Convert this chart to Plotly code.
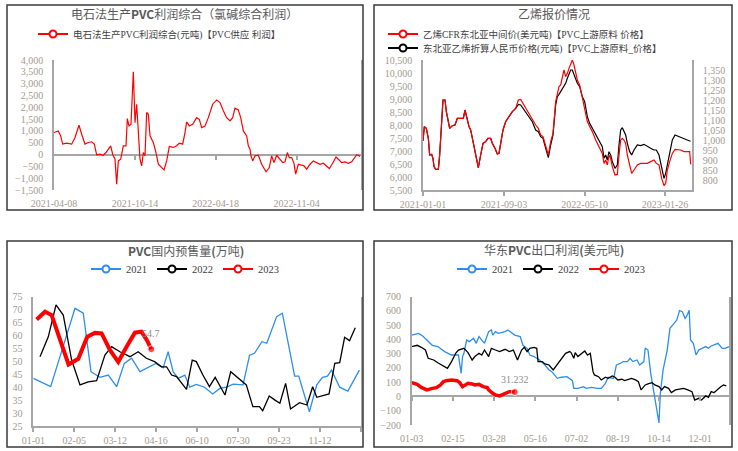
import plotly.graph_objects as go

W, H = 738, 451

# ---------------- Panel 1: 电石法生产PVC利润综合 ----------------
p1_idx = [0, 6.5, 10, 13, 19, 26.5, 31.5, 37.5, 41.5, 46.5,
          51.5, 56.5, 60.5, 64, 69, 74, 78, 81.5, 85, 88,
          91.5, 94, 96.5, 100, 104, 108, 110, 112.5, 115.5, 119,
          121.5, 124, 126.5, 129, 131.5, 134, 136.5, 139, 141.5, 144,
          149, 153, 156.5, 161.5, 165, 169, 173, 179, 184, 188,
          193, 196.5, 199, 203, 208, 214, 218, 221.5, 226.5, 231.5,
          238, 244, 249, 254, 259, 264, 268, 271.5, 276.5, 280,
          284, 289, 291.5, 294, 295.5, 298, 301.5, 306.5, 311.5, 318,
          323, 326.5, 330, 334, 339, 343, 346.5, 350, 353, 356.5,
          360, 362.5, 366.5, 370, 375, 379, 384, 389, 394, 399,
          404, 408, 413, 418, 423, 426.5, 431.5, 436.5, 441.5, 446.5,
          450.5, 454, 456.5, 459]
p1_val = [930, 1000, 790, 440, 480, 440, 720, 1240, 860, 440,
          510, 540, 440, -15, 15, -30, 85, 225, 370, 15,
          -200, -1250, -270, -200, 370, 370, 1520, 1210, 1280, 3500,
          1350, 2130, 1070, -200, -480, 85, -55, 1780, 1700, 790,
          510, 85, -410, -550, -650, -270, 340, 300, 370, 480,
          440, 930, 1380, 1210, 1280, 1560, 1490, 1140, 1210, 1560,
          2130, 2310, 2200, 1850, 1560, 1420, 1560, 1960, 1890, 1560,
          1000, 790, 370, 225, -55, -270, -55, -30, -410, -730,
          -550, -55, -340, -30, -200, -340, -310, 85, -130, -130,
          -370, -830, -410, -450, -480, -620, -410, -270, -340, -410,
          -370, -480, -590, -370, -100, -200, -340, -310, -370, -310,
          -130, -15, -30, -85]
p1_tick_idx = [0, 121.5, 242.5, 364]
p1_tick_lbl = ["2021-04-08", "2021-10-14", "2022-04-18", "2022-11-04"]
p1_name = "电石法生产PVC利润综合(元吨)【PVC供应 利润】"

# ---------------- Panel 2: 乙烯报价情况 ----------------
p2_idx = [0, 2, 5, 8, 10, 13, 15, 16.5, 19, 23,
          25, 28, 30, 33, 35, 38, 40, 44, 48, 51.5,
          56.5, 60.5, 63, 65.5, 69, 71.5, 74, 76.5, 80, 83,
          86.5, 90, 94, 97.5, 101.5, 104, 108, 111.5, 114, 116.5,
          120, 124, 129, 134, 139, 143, 146.5, 150, 154, 159,
          164, 169, 173, 176.5, 180, 184, 188, 191.5, 195, 199,
          201.5, 204, 206.5, 209, 211.5, 214, 216.5, 219, 221.5, 224,
          226.5, 229, 231.5, 235, 239, 242.5, 246.5, 250, 254, 259,
          264, 269, 271.5, 274, 276.5, 279, 281.5, 284, 288, 291.5,
          294, 296.5, 299, 301.5, 304, 306.5, 310, 313, 316.5, 321.5,
          326.5, 331.5, 336.5, 341.5, 346.5, 350, 354, 358, 361.5, 364,
          366.5, 370, 374, 378, 381.5, 386.5, 391.5, 396.5, 400, 401.5]
p2_cny = [7385, 7936, 7872, 7487, 6846, 6872, 6718, 6398, 6295, 6295,
          6846, 8128, 8962, 8962, 8513, 8128, 7872, 7974, 8000, 8257,
          8257, 8257, 8577, 8257, 7936, 7808, 7487, 7167, 6718, 6359,
          6846, 7295, 7359, 7487, 7487, 7295, 7103, 6885, 6910, 7359,
          7808, 8128, 8321, 8513, 8641, 8795, 8769, 8641, 8513, 8321,
          8128, 7808, 7744, 7551, 7487, 7103, 6744, 7231, 7616, 8769,
          9090, 9180, 9282, 9410, 9474, 9603, 9795, 9923, 10115, 10115,
          9923, 9795, 9603, 9474, 9090, 8898, 8321, 8064, 7872, 7680,
          7423, 7167, 6718, 6846, 6654, 6975, 6846, 6590, 6334, 6462,
          7231, 7808, 7898, 7744, 7616, 7295, 6975, 6846, 7039, 7231,
          7205, 7257, 7167, 7103, 7039, 7039, 6846, 6334, 5949, 6141,
          6462, 6910, 7423, 7616, 7577, 7513, 7462, 7423, 7385, 7385]
p2_usd = [995, 1067, 1058, 1008, 925, 928, 908, 867, 853, 853,
          925, 1092, 1200, 1200, 1142, 1092, 1058, 1072, 1075, 1108,
          1108, 1108, 1150, 1108, 1067, 1050, 1008, 967, 908, 862,
          925, 983, 992, 1008, 1008, 983, 958, 930, 933, 992,
          1050, 1092, 1117, 1142, 1158, 1200, 1203, 1183, 1158, 1133,
          1108, 1075, 1058, 1025, 1017, 967, 925, 992, 1033, 1192,
          1225, 1267, 1275, 1308, 1350, 1317, 1333, 1358, 1383, 1400,
          1375, 1333, 1300, 1275, 1208, 1167, 1092, 1067, 1042, 1000,
          967, 933, 883, 900, 875, 925, 908, 867, 825, 828,
          925, 1000, 1008, 1000, 983, 925, 875, 833, 850, 875,
          883, 883, 883, 892, 900, 883, 875, 808, 772, 783,
          850, 892, 933, 953, 953, 950, 942, 942, 942, 878]
p2_tick_idx = [0, 121.5, 242.5, 363]
p2_tick_lbl = ["2021-01-01", "2021-09-03", "2022-05-10", "2023-01-26"]
p2_right_ticks = [800, 850, 900, 950, 1000, 1050, 1100, 1150, 1200, 1250, 1300, 1350]
p2_name_usd = "乙烯CFR东北亚中间价(美元吨)【PVC上游原料 价格】"
p2_name_cny = "东北亚乙烯折算人民币价格(元吨)【PVC上游原料_价格】"

# ---------------- Panel 3: PVC国内预售量(万吨) ----------------
p3_x21 = [0, 2.12, 5.09, 6.1, 7.04, 8.13, 9.15, 10.17, 11.1, 12.0,
          13.01, 14.02, 14.96, 15.85, 16.46, 17.07, 17.68, 18.5, 19.1, 19.9,
          20.9, 21.9, 22.8, 23.6, 24.4, 25.6, 26.4, 27.0, 27.9, 28.5,
          29.7, 30.4, 31.9, 32.4, 33.7, 34.6, 35.3, 35.9, 36.4, 37.4,
          38.4, 39.8]
p3_y21 = [43.4, 40.2, 70.5, 68.6, 46.0, 43.8, 44.7, 40.2, 49.2, 51.2,
          46.0, 47.6, 49.2, 47.5, 53.7, 46.0, 43.4, 44.7, 40.0, 41.1,
          40.0, 37.4, 39.6, 40.0, 41.2, 40.9, 52.4, 53.1, 57.6, 57.0,
          67.3, 68.6, 44.3, 44.3, 30.5, 40.9, 43.8, 44.3, 46.6, 40.0,
          38.5, 46.6]
p3_x22 = [0.82, 1.83, 2.77, 3.66, 4.68, 5.7, 6.7, 7.73, 8.74, 9.56,
          10.57, 11.8, 12.8, 13.8, 14.8, 15.66, 16.27, 16.88, 17.49, 18.7,
          19.4, 19.9, 20.7, 21.5, 22.2, 23.4, 24.1, 24.8, 26.0, 26.8,
          27.6, 28.0, 28.8, 29.5, 30.1, 30.8, 31.4, 32.5, 33.4, 34.1,
          34.6, 36.1, 36.8, 37.4, 38.0, 38.6, 39.3]
p3_y22 = [51.8, 59.5, 71.8, 67.9, 50.5, 40.9, 42.1, 42.5, 52.4, 55.7,
          53.7, 51.8, 53.7, 51.2, 49.9, 47.9, 47.9, 44.7, 44.1, 39.2,
          50.5, 49.9, 44.7, 40.2, 43.8, 37.0, 46.0, 44.1, 40.9, 32.5,
          32.5, 30.9, 36.6, 35.0, 33.8, 41.5, 31.6, 34.0, 33.1, 40.2,
          36.1, 37.4, 49.2, 49.5, 59.3, 58.0, 63.0]
p3_x23 = [0.41, 1.43, 2.24, 4.3, 5.49, 6.59, 7.52, 8.34, 9.35, 10.37,
          11.4, 12.4, 13.2, 13.9, 14.4]
p3_y23 = [66.2, 69.2, 67.9, 48.8, 51.0, 59.5, 61.0, 60.8, 54.4, 49.8,
          55.7, 61.1, 61.5, 58.0, 54.7]
p3_tick_idx = [0, 5, 10, 15, 20, 25, 30, 35, 40]
p3_tick_lbl = ["01-01", "02-05", "03-12", "04-16", "06-10", "07-30", "09-23", "11-12", ""]

# ---------------- Panel 4: 华东PVC出口利润(美元吨) ----------------
p4_x21 = [0, 5, 8, 15, 19, 24, 29, 34, 36, 37,
          38, 40, 42, 45, 47, 49, 51, 53, 56, 58,
          59, 61, 63, 68, 70, 73, 75, 79, 81, 84,
          86, 89, 93, 97, 100, 102, 106, 109, 113, 117,
          118, 121, 125, 127, 131, 135, 138, 141, 143, 147,
          149, 152, 154, 157, 159, 161, 164, 166, 169, 170,
          172, 174, 176, 178, 180, 181, 183, 186, 188, 191,
          193, 195, 197, 199, 200, 202, 203, 205, 207, 209,
          214, 216, 218, 223, 226, 228, 231]
p4_y21 = [431, 443, 424, 359, 350, 315, 291, 291, 162, 280,
          303, 396, 385, 408, 373, 420, 396, 373, 455, 467,
          431, 455, 443, 455, 467, 443, 431, 420, 359, 338,
          291, 280, 256, 221, 186, 174, 127, 135, 139, 111,
          57, 57, 69, 57, 64, 57, 57, 92, 135, 127,
          221, 233, 245, 245, 268, 245, 256, 221, 245, 340,
          326, 162, 46, -71, -185, 22, 186, 326, 478, 513,
          537, 602, 595, 548, 560, 605, 396, 373, 291, 326,
          350, 338, 354, 373, 338, 338, 350]
p4_x22 = [0, 4, 7, 10, 12, 16, 19, 23, 26, 29,
          32, 34, 38, 41, 44, 46, 49, 51, 53, 56,
          58, 61, 64, 68, 71, 74, 77, 80, 82, 84,
          86, 89, 91, 92, 95, 97, 100, 103, 106, 109,
          112, 115, 116, 118, 119, 121, 124, 126, 128, 130,
          132, 133, 136, 138, 141, 143, 146, 148, 150, 153,
          155, 158, 160, 163, 165, 167, 170, 172, 175, 177,
          180, 182, 184, 187, 189, 192, 194, 198, 201, 203,
          204, 206, 209, 211, 214, 216, 218, 220, 222, 225,
          227, 229]
p4_y22 = [350, 359, 345, 326, 268, 256, 237, 214, 198, 245,
          303, 326, 338, 308, 256, 280, 303, 291, 326, 280,
          338, 326, 315, 331, 315, 326, 256, 326, 345, 315,
          338, 345, 338, 245, 245, 228, 221, 186, 228, 268,
          303, 315, 308, 268, 308, 280, 303, 319, 291, 303,
          174, 151, 139, 116, 135, 127, 144, 135, 116, 121,
          111, 121, 127, 116, 104, 46, 81, 88, 97, 81,
          69, 46, 69, 57, 27, 46, 50, 57, 46, 34,
          34, -25, -13, -25, 4, -6, 34, 27, 46, 69,
          81, 74]
p4_x23 = [0, 4, 7, 11, 15, 18, 21, 23, 25, 29,
          33, 35, 37, 39, 41, 44, 46, 49, 52, 55,
          56, 59, 61, 64, 66, 68, 71, 73, 75]
p4_y23 = [97, 85, 64, 46, 57, 62, 81, 104, 111, 116,
          111, 97, 69, 81, 92, 88, 81, 85, 69, 62,
          46, 22, 11, 4, 11, 18, 34, 34, 31.232]
p4_tick_idx = [0, 30, 60, 90, 120, 150, 180, 210]
p4_tick_lbl = ["01-03", "02-15", "03-28", "05-16", "07-02", "08-19", "10-14", "12-01"]

years = ["2021", "2022", "2023"]

# ---------------- styling ----------------
RED = "#ff0000"
BLUE = "#2b8ef0"
BLACK = "#000000"
AX = "#a6a6a6"
TICKC = "#a39a8f"
TXT = "#404040"
TITLEC = "#595959"
SERIF = "Liberation Serif, Noto Sans CJK SC, serif"
SANS = "Noto Sans CJK SC, Noto Sans, sans-serif"
tickfont = dict(family=SERIF, size=10, color=TICKC)


def xd(a, b):
    return [a / W, b / W]


def yd(top, bottom):
    return [1 - bottom / H, 1 - top / H]


def px(x):
    return x / W


def py(y):
    return 1 - y / H


def zero_pos(dom, rng):
    return dom[0] + (0 - rng[0]) / (rng[1] - rng[0]) * (dom[1] - dom[0])


def end_marker_sizes(n, s=7):
    return [0] * (n - 1) + [s]


def legend_item(name, color, legend, xa, ya):
    return go.Scatter(x=[None], y=[None], mode="lines+markers", name=name,
                      line=dict(color=color, width=2),
                      marker=dict(symbol="circle", size=7, color="white",
                                  line=dict(color=color, width=2)),
                      legend=legend, xaxis=xa, yaxis=ya, showlegend=True,
                      hoverinfo="skip")


fig = go.Figure()

# Panel 1
fig.add_trace(go.Scatter(x=p1_idx, y=p1_val, mode="lines",
                         line=dict(color=RED, width=1.2),
                         xaxis="x", yaxis="y", showlegend=False))
fig.add_trace(legend_item(p1_name, RED, "legend", "x", "y"))
fig.add_trace(go.Scatter(x=[None], y=[None], xaxis="x5", yaxis="y",
                         showlegend=False, hoverinfo="skip"))

# Panel 2
fig.add_trace(go.Scatter(x=p2_idx, y=p2_usd, mode="lines",
                         line=dict(color=RED, width=1.2),
                         xaxis="x2", yaxis="y3", showlegend=False))
fig.add_trace(go.Scatter(x=p2_idx, y=p2_cny, mode="lines",
                         line=dict(color=BLACK, width=1.2),
                         xaxis="x2", yaxis="y2", showlegend=False))
fig.add_trace(legend_item(p2_name_usd, RED, "legend2", "x2", "y2"))
fig.add_trace(legend_item(p2_name_cny, BLACK, "legend3", "x2", "y2"))

# Panel 3
fig.add_trace(go.Scatter(x=p3_x21, y=p3_y21, mode="lines",
                         line=dict(color=BLUE, width=1.3),
                         xaxis="x3", yaxis="y4", showlegend=False))
fig.add_trace(go.Scatter(x=p3_x22, y=p3_y22, mode="lines",
                         line=dict(color=BLACK, width=1.3),
                         xaxis="x3", yaxis="y4", showlegend=False))
fig.add_trace(go.Scatter(x=p3_x23, y=p3_y23, mode="lines+markers",
                         line=dict(color=RED, width=4),
                         marker=dict(color=RED, size=end_marker_sizes(len(p3_x23))),
                         xaxis="x3", yaxis="y4", showlegend=False))
for yr, c in zip(years, [BLUE, BLACK, RED]):
    fig.add_trace(legend_item(yr, c, "legend4", "x3", "y4"))

# Panel 4
fig.add_trace(go.Scatter(x=p4_x21, y=p4_y21, mode="lines",
                         line=dict(color=BLUE, width=1.3),
                         xaxis="x4", yaxis="y5", showlegend=False))
fig.add_trace(go.Scatter(x=p4_x22, y=p4_y22, mode="lines",
                         line=dict(color=BLACK, width=1.3),
                         xaxis="x4", yaxis="y5", showlegend=False))
fig.add_trace(go.Scatter(x=p4_x23, y=p4_y23, mode="lines+markers",
                         line=dict(color=RED, width=3.5),
                         marker=dict(color=RED, size=end_marker_sizes(len(p4_x23))),
                         xaxis="x4", yaxis="y5", showlegend=False))
fig.add_trace(go.Scatter(x=[None], y=[None], xaxis="x6", yaxis="y5",
                         showlegend=False, hoverinfo="skip"))
for yr, c in zip(years, [BLUE, BLACK, RED]):
    fig.add_trace(legend_item(yr, c, "legend5", "x4", "y5"))

# axes
y1_rng = [-1500, 4000]
y1_dom = yd(60, 190)
x1_rng = [0, 460.5]
y5_rng = [-200, 700]
y5_dom = yd(296.7, 425)
x4_rng = [0, 231.2]

common_y = dict(showline=True, linecolor=AX, linewidth=1.5, showgrid=False,
                ticks="", tickfont=tickfont, ticklabelstandoff=7, automargin=False)
common_x = dict(showgrid=False, zeroline=False, tickfont=tickfont, automargin=False)

layout_axes = dict(
    xaxis=dict(domain=xd(54, 361), range=x1_rng, anchor="y", showline=False,
               ticks="", tickvals=p1_tick_idx, ticktext=p1_tick_lbl,
               ticklabelstandoff=6, **common_x),
    yaxis=dict(domain=y1_dom, range=y1_rng, dtick=500, tick0=0, mirror=True,
               zeroline=True, zerolinecolor=AX, zerolinewidth=1.5,
               tickformat=",d", anchor="x", **common_y),
    xaxis5=dict(overlaying="x", anchor="free", position=zero_pos(y1_dom, y1_rng),
                range=x1_rng, showline=False, ticks="outside", ticklen=4,
                tickcolor=AX, tickwidth=1.5, tickvals=p1_tick_idx[1:],
                showticklabels=False, showgrid=False, zeroline=False,
                automargin=False),
    xaxis2=dict(domain=xd(423, 692), range=[0, 403.5], anchor="y2",
                showline=True, linecolor=AX, linewidth=1.5, ticks="outside",
                ticklen=4, tickcolor=AX, tickwidth=1.5,
                tickvals=p2_tick_idx, ticktext=p2_tick_lbl, **common_x),
    yaxis2=dict(domain=yd(60, 190), range=[5500, 10500], dtick=500,
                zeroline=False, tickformat=",d", anchor="x2", **common_y),
    yaxis3=dict(overlaying="y2", side="right", anchor="x2", range=[750, 1400],
                tickvals=p2_right_ticks, tickformat=",d", zeroline=False,
                **common_y),
    xaxis3=dict(domain=xd(33.3, 361), range=[0, 40], anchor="y4",
                showline=True, linecolor=AX, linewidth=1.5, ticks="outside",
                ticklen=4, tickcolor=AX, tickwidth=1.5,
                tickvals=p3_tick_idx, ticktext=p3_tick_lbl, **common_x),
    yaxis4=dict(domain=yd(296.7, 426), range=[25, 75], dtick=5, mirror=True,
                zeroline=False, anchor="x3", **common_y),
    xaxis4=dict(domain=xd(411.7, 729.3), range=x4_rng, anchor="y5",
                showline=False, ticks="", tickvals=p4_tick_idx,
                ticktext=p4_tick_lbl, ticklabelstandoff=6, **common_x),
    yaxis5=dict(domain=y5_dom, range=y5_rng, dtick=100, mirror=True,
                zeroline=True, zerolinecolor=AX, zerolinewidth=1.5,
                anchor="x4", **common_y),
    xaxis6=dict(overlaying="x4", anchor="free", position=zero_pos(y5_dom, y5_rng),
                range=x4_rng, showline=False, ticks="outside", ticklen=4,
                tickcolor=AX, tickwidth=1.5, tickvals=p4_tick_idx,
                showticklabels=False, showgrid=False, zeroline=False,
                automargin=False),
)


def leg(x, y, xanchor="left", orientation="v", size=9.5):
    return dict(x=x, y=y, xanchor=xanchor, yanchor="middle", orientation=orientation,
                bgcolor="rgba(0,0,0,0)", borderwidth=0,
                font=dict(family=SERIF, size=size, color=TXT),
                itemclick=False, itemdoubleclick=False)


borders = []
for (x0, y0, x1, y1) in [(7, 5, 363, 210), (374, 5, 732, 210),
                         (7, 241, 363, 447), (374, 241, 732, 447)]:
    borders.append(dict(type="rect", xref="paper", yref="paper",
                        x0=px(x0), x1=px(x1), y0=py(y1), y1=py(y0),
                        line=dict(color="#3a3a3a", width=1.5), layer="above"))

title_font = dict(family=SANS, size=12, color=TITLEC)
annotations = [
    dict(text="电石法生产<b>PVC</b>利润综合（氯碱综合利润）", x=px(184), y=py(14)),
    dict(text="乙烯报价情况", x=px(554), y=py(14)),
    dict(text="<b>PVC</b>国内预售量<b>(</b>万吨<b>)</b>", x=px(186), y=py(250)),
    dict(text="华东<b>PVC</b>出口利润<b>(</b>美元吨<b>)</b>", x=px(554), y=py(249)),
]
for a in annotations:
    a.update(xref="paper", yref="paper", showarrow=False, font=title_font,
             xanchor="center", yanchor="middle")

lbl_font = dict(family=SERIF, size=10, color="#8c8c8c")
annotations.append(dict(text=str(p3_y23[-1]), x=p3_x23[-1], y=p3_y23[-1],
                        xref="x3", yref="y4", showarrow=False, yshift=16,
                        font=lbl_font))
annotations.append(dict(text=str(p4_y23[-1]), x=p4_x23[-1], y=p4_y23[-1],
                        xref="x4", yref="y5", showarrow=False, yshift=13,
                        font=lbl_font))

fig.update_layout(
    template="none",
    width=W, height=H, margin=dict(l=0, r=0, t=0, b=0, autoexpand=False),
    paper_bgcolor="white", plot_bgcolor="white",
    showlegend=True,
    legend=leg(px(33), py(34)),
    legend2=leg(px(383), py(34)),
    legend3=leg(px(383), py(48)),
    legend4=leg(px(185), py(269), "center", "h", 10.5),
    legend5=leg(px(551), py(269), "center", "h", 10.5),
    shapes=borders,
    annotations=annotations,
    **layout_axes,
)

fig.write_html("out.html", config={"displayModeBar": False})
